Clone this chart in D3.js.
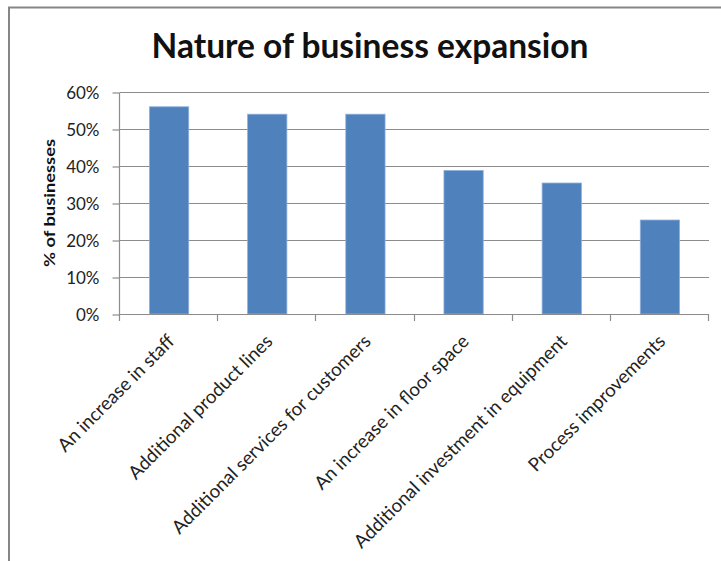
<!DOCTYPE html>
<html>
<head>
<meta charset="utf-8">
<script src="https://cdn.jsdelivr.net/npm/d3@7"></script>
<style>
  html, body { margin: 0; padding: 0; background: #fff; }
  svg { display: block; }
</style>
</head>
<body>
<div id="chart"></div>
<script>
// Chart data
const categories = [
  "An increase in staff",
  "Additional product lines",
  "Additional services for customers",
  "An increase in floor space",
  "Additional investment in equipment",
  "Process improvements"
];
const shares = [0.56, 0.54, 0.54, 0.388, 0.354, 0.254];
const yTicks = [0, 0.1, 0.2, 0.3, 0.4, 0.5, 0.6];
const chartTitle = "Nature of business expansion";
const yTitle = "% of businesses";

const W = 721, H = 561;
const plot = { left: 120, right: 709, top: 92, bottom: 314 };
const FONT = "Lato, 'Open Sans', sans-serif";
const gridColor = "#8c8c8c";

const svg = d3.select("#chart").append("svg")
  .attr("width", W).attr("height", H);

// chart area frame
svg.append("rect")
  .attr("x", 9).attr("y", 7.5)
  .attr("width", W + 20).attr("height", H + 20)
  .attr("fill", "#fff")
  .attr("stroke", "#868686").attr("stroke-width", 2);

const x = d3.scaleBand()
  .domain(categories)
  .range([plot.left, plot.right])
  .paddingInner(0.6)
  .paddingOuter(0.3);

const y = d3.scaleLinear()
  .domain([0, 0.6])
  .range([plot.bottom, plot.top]);

// horizontal gridlines
svg.append("g")
  .selectAll("line")
  .data(yTicks.filter(d => d > 0))
  .join("line")
  .attr("x1", plot.left).attr("x2", plot.right)
  .attr("y1", d => Math.round(y(d)) + 0.5)
  .attr("y2", d => Math.round(y(d)) + 0.5)
  .attr("stroke", gridColor).attr("stroke-width", 1.2);

// bars
svg.append("g")
  .selectAll("rect")
  .data(categories.map((c, i) => ({ c, v: shares[i] })))
  .join("rect")
  .attr("x", d => x(d.c))
  .attr("width", x.bandwidth())
  .attr("y", d => y(d.v))
  .attr("height", d => y(0) - y(d.v))
  .attr("fill", "#4f81bd")
  .attr("stroke", "#8eaedb")
  .attr("stroke-width", 0.8);

// y axis
const yAxis = d3.axisLeft(y)
  .tickValues(yTicks)
  .tickFormat(d3.format(".0%"))
  .tickSize(7)
  .tickPadding(13);
const gy = svg.append("g")
  .attr("transform", `translate(${plot.left - 0.5},0.5)`)
  .call(yAxis);
gy.select(".domain").attr("stroke", gridColor).attr("stroke-width", 1.2)
  .attr("d", `M0,${plot.top}V${plot.bottom}`);
gy.selectAll(".tick line").attr("stroke", gridColor).attr("stroke-width", 1.2);
gy.selectAll(".tick text")
  .attr("font-family", FONT).attr("font-size", 17)
  .attr("fill", "#222").attr("dy", "0.36em");

// x axis: ticks sit on category boundaries
const boundaries = d3.range(categories.length + 1)
  .map(i => plot.left + i * x.step());
const gx = svg.append("g");
gx.append("line")
  .attr("x1", plot.left - 0.5).attr("x2", plot.right)
  .attr("y1", plot.bottom + 0.5).attr("y2", plot.bottom + 0.5)
  .attr("stroke", gridColor).attr("stroke-width", 1.2);
gx.selectAll("line.tick")
  .data(boundaries)
  .join("line")
  .attr("class", "tick")
  .attr("x1", d => Math.round(d) - 0.5).attr("x2", d => Math.round(d) - 0.5)
  .attr("y1", plot.bottom).attr("y2", plot.bottom + 7)
  .attr("stroke", gridColor).attr("stroke-width", 1.2);

// rotated category labels, top-right corner near the category centre
gx.selectAll("text")
  .data(categories)
  .join("text")
  .attr("transform", d => `translate(${x(d) + x.bandwidth() / 2 - 3},${plot.bottom + 19}) rotate(-45)`)
  .attr("text-anchor", "end")
  .attr("dy", "0.72em")
  .attr("font-family", FONT).attr("font-size", 18.7)
  .attr("fill", "#222")
  .text(d => d);

// titles
svg.append("text")
  .attr("x", 370).attr("y", 58)
  .attr("text-anchor", "middle")
  .attr("font-family", FONT).attr("font-weight", 700).attr("font-size", 34)
  .attr("textLength", 437).attr("lengthAdjust", "spacingAndGlyphs")
  .attr("fill", "#111")
  .text(chartTitle);

svg.append("text")
  .attr("transform", `translate(55,${(plot.top + plot.bottom) / 2}) rotate(-90)`)
  .attr("text-anchor", "middle")
  .attr("font-family", FONT).attr("font-weight", 700).attr("font-size", 16)
  .attr("textLength", 128).attr("lengthAdjust", "spacingAndGlyphs")
  .attr("fill", "#111")
  .text(yTitle);
</script>
</body>
</html>
